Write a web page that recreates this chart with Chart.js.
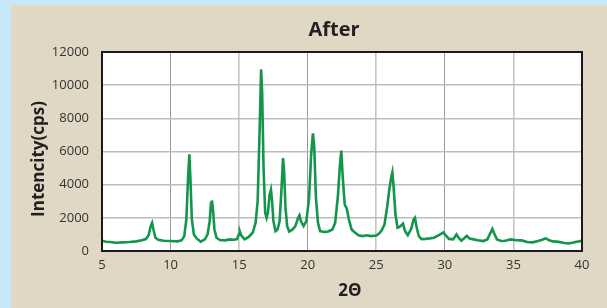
<!DOCTYPE html>
<html>
<head>
<meta charset="utf-8">
<title>After</title>
<script src="https://cdn.jsdelivr.net/npm/chart.js@4.4.1/dist/chart.umd.min.js"></script>
<style>
    html, body { margin: 0; padding: 0; background: #c6e8f8; }
    #wrap { width: 607px; height: 308px; }
</style>
</head>
<body>
<div id="wrap"><canvas id="xrdChart" width="607" height="308"></canvas></div>
<script>
// --- Data ---
const CHART_TITLE = 'After';
const X_TITLE = '2Θ';
const Y_TITLE = 'Intencity(cps)';

const xTicks = [5, 10, 15, 20, 25, 30, 35, 40];
const yTicks = [0, 2000, 4000, 6000, 8000, 10000, 12000];

const twoTheta = [
    5.0, 5.3, 5.6, 6.0, 6.5, 7.0, 7.5, 7.9, 8.2, 8.4, 8.55, 8.65, 8.75, 8.9, 9.1, 9.5,
    10.0, 10.5, 10.8, 11.0, 11.15, 11.28, 11.37, 11.45, 11.55, 11.7, 11.9, 12.2, 12.5, 12.7,
    12.85, 12.95, 13.02, 13.1, 13.2, 13.35, 13.6, 14.0, 14.3, 14.6, 14.85, 15.0, 15.06, 15.15,
    15.4, 15.7, 16.0, 16.2, 16.35, 16.5, 16.6, 16.68, 16.78, 16.9, 17.0, 17.1, 17.22, 17.32,
    17.4, 17.5, 17.65, 17.8, 17.95, 18.08, 18.2, 18.28, 18.38, 18.5, 18.65, 18.9, 19.1, 19.3,
    19.4, 19.5, 19.7, 19.9, 20.1, 20.25, 20.38, 20.48, 20.6, 20.75, 20.9, 21.2, 21.5, 21.8,
    22.0, 22.2, 22.35, 22.45, 22.55, 22.7, 22.85, 23.0, 23.2, 23.4, 23.7, 24.0, 24.3, 24.6,
    25.0, 25.2, 25.4, 25.6, 25.8, 25.95, 26.1, 26.17, 26.25, 26.4, 26.55, 26.7, 26.95, 27.1,
    27.3, 27.55, 27.72, 27.82, 27.95, 28.1, 28.3, 28.6, 28.9, 29.2, 29.5, 29.75, 29.9, 30.05,
    30.3, 30.6, 30.85, 31.0, 31.2, 31.45, 31.6, 31.8, 32.1, 32.4, 32.8, 33.1, 33.3, 33.46,
    33.6, 33.8, 34.1, 34.4, 34.8, 35.2, 35.6, 36.0, 36.4, 36.8, 37.1, 37.35, 37.6, 37.9,
    38.3, 38.7, 39.0, 39.3, 39.6, 39.8, 40.0
];

const intensity = [
    620, 560, 540, 500, 520, 540, 580, 650, 720, 950, 1500, 1700, 1300, 800, 680, 620,
    600, 580, 640, 900, 1900, 4500, 5830, 4300, 1900, 1000, 760, 560, 700, 1000,
    1800, 2900, 3050, 2400, 1300, 800, 660, 640, 700, 680, 720, 1050, 1160, 950,
    700, 850, 1130, 1700, 3000, 7500, 10950, 9500, 5000, 2300, 2000, 2300, 3400, 3700,
    3000, 1800, 1200, 1300, 1800, 3600, 5600, 4800, 2600, 1500, 1170, 1300, 1500, 2000,
    2150, 1800, 1500, 1800, 3200, 5800, 7100, 6200, 3200, 1700, 1200, 1150, 1180, 1300,
    1700, 3300, 5200, 6050, 4500, 2800, 2550, 1900, 1300, 1150, 950, 900, 950, 900,
    930, 1050, 1250, 1600, 2700, 3700, 4500, 4750, 4000, 2200, 1400, 1450, 1650, 1200,
    950, 1350, 1900, 2000, 1400, 900, 720, 730, 760, 800, 930, 1050, 1120, 950,
    730, 700, 1000, 800, 620, 800, 920, 750, 700, 650, 600, 700, 1050, 1330,
    1050, 700, 600, 620, 700, 650, 640, 540, 520, 600, 680, 760, 650, 580,
    550, 480, 460, 500, 560, 580, 620
];

const LINE_GREEN = '#13964b';
const TEXT_DARK = '#231f20';

// Page frame, plot fill, outer border and the titles
const framePlugin = {
    id: 'frame',
    beforeDraw(chart) {
        const { ctx, chartArea: a, width, height } = chart;
        ctx.save();
        ctx.fillStyle = '#c6e8f8';
        ctx.fillRect(0, 0, width, height);
        ctx.fillStyle = '#e0d8c4';
        ctx.fillRect(11, 5, width - 11, height - 5);
        ctx.fillStyle = '#ffffff';
        ctx.fillRect(a.left, a.top, a.right - a.left, a.bottom - a.top);
        ctx.restore();
    },
    afterDraw(chart) {
        const { ctx, chartArea: a } = chart;
        ctx.save();
        ctx.strokeStyle = '#1a1a1a';
        ctx.lineWidth = 2;
        ctx.strokeRect(a.left, a.top, a.right - a.left, a.bottom - a.top);

        ctx.fillStyle = TEXT_DARK;
        ctx.textAlign = 'center';
        ctx.textBaseline = 'middle';
        ctx.font = 'bold 20px "Open Sans"';
        ctx.fillText(CHART_TITLE, 334, 30);
        ctx.font = 'bold 17px "Open Sans"';
        ctx.fillText(X_TITLE, 350, 291);

        ctx.translate(39, 159);
        ctx.rotate(-Math.PI / 2);
        ctx.font = 'bold 17px "Open Sans"';
        ctx.fillText(Y_TITLE, 0, 0);
        ctx.restore();
    }
};

window.addEventListener('DOMContentLoaded', () => {
    const ctx = document.getElementById('xrdChart').getContext('2d');
    const points = twoTheta.map((t, i) => ({ x: t, y: intensity[i] }));

    new Chart(ctx, {
        type: 'line',
        data: {
            datasets: [{
                data: points,
                borderColor: LINE_GREEN,
                borderWidth: 2.6,
                pointRadius: 0,
                tension: 0,
                fill: false
            }]
        },
        options: {
            responsive: false,
            animation: false,
            layout: { padding: { left: 0, top: 52, right: 25, bottom: 0 } },
            scales: {
                x: {
                    type: 'linear',
                    min: xTicks[0],
                    max: xTicks[xTicks.length - 1],
                    afterBuildTicks: scale => { scale.ticks = xTicks.map(v => ({ value: v })); },
                    afterFit: scale => { scale.height = 57; },
                    ticks: { color: '#333', padding: 6, font: { family: 'Open Sans', size: 13 } },
                    grid: {
                        drawTicks: false,
                        color: c => (c.tick && c.tick.value % 10 === 0) ? '#9a9a9a' : '#c4c4c4',
                        lineWidth: c => (c.tick && c.tick.value % 10 === 0) ? 1 : 1.6
                    },
                    border: { display: false }
                },
                y: {
                    min: yTicks[0],
                    max: yTicks[yTicks.length - 1],
                    afterBuildTicks: scale => { scale.ticks = yTicks.map(v => ({ value: v })); },
                    afterFit: scale => { scale.width = 102; },
                    ticks: {
                        color: '#333',
                        padding: 13,
                        font: { family: 'Open Sans', size: 13 },
                        callback: v => String(v)
                    },
                    grid: { drawTicks: false, color: '#bdbdbd', lineWidth: 1.6 },
                    border: { display: false }
                }
            },
            plugins: {
                legend: { display: false },
                tooltip: { enabled: false }
            }
        },
        plugins: [framePlugin]
    });
});
</script>
</body>
</html>
